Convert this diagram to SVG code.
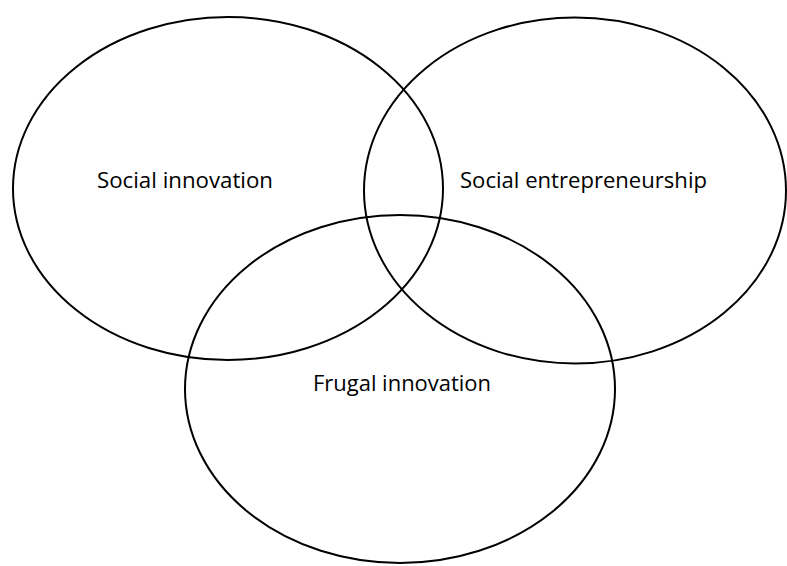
<svg xmlns="http://www.w3.org/2000/svg" width="787" height="566" viewBox="0 0 787 566">
<style>
.c{fill:none;stroke:#000;stroke-width:2}
.t{font-family:"Open Sans","Liberation Sans",sans-serif;font-size:22px;fill:#000}
</style>
<rect width="787" height="566" fill="#fff"/>
<g id="social-innovation">
<ellipse class="c" cx="228" cy="188.5" rx="215" ry="171.5"/>
<text class="t" x="97" y="188" textLength="176" lengthAdjust="spacingAndGlyphs">Social innovation</text>
</g>
<g id="social-entrepreneurship">
<ellipse class="c" cx="575" cy="190.5" rx="211" ry="173"/>
<text class="t" x="460" y="188" textLength="247" lengthAdjust="spacingAndGlyphs">Social entrepreneurship</text>
</g>
<g id="frugal-innovation">
<ellipse class="c" cx="400" cy="389" rx="215" ry="174"/>
<text class="t" x="313" y="391" textLength="178" lengthAdjust="spacingAndGlyphs">Frugal innovation</text>
</g>
<g id="connectors"/>
</svg>
